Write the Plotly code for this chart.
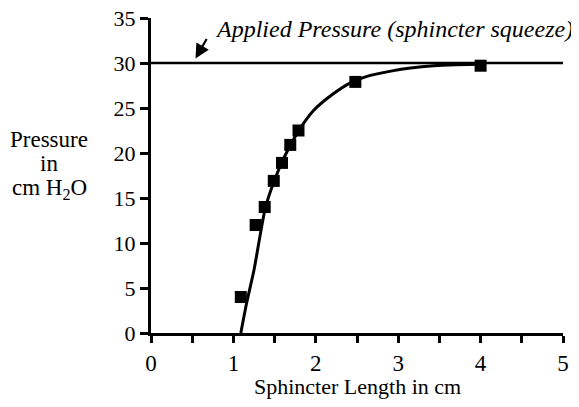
import plotly.graph_objects as go

# measured points
length_cm = [1.09, 1.27, 1.38, 1.49, 1.59, 1.69, 1.79, 2.48, 4.0]
pressure = [4.0, 12.0, 14.0, 16.9, 18.9, 20.9, 22.5, 27.9, 29.7]

# fitted curve
curve_x = [1.09, 1.16, 1.25, 1.39, 1.5, 1.6, 1.7, 1.8, 1.97, 2.2, 2.42, 2.65, 2.91, 3.15, 3.43, 3.7, 4.0]
curve_y = [0.0, 3.3, 7.0, 14.0, 17.0, 19.2, 21.0, 22.6, 24.7, 26.5, 27.8, 28.6, 29.1, 29.45, 29.7, 29.8, 29.85]

applied_pressure = 30
x_ticks = [0, 1, 2, 3, 4, 5]
x_minor = [0.5, 1.5, 2.5, 3.5, 4.5]
y_ticks = [0, 5, 10, 15, 20, 25, 30, 35]
y_title_lines = ["Pressure", "in", "cm H<sub>2</sub>O"]
x_title = "Sphincter Length in cm"
label_text = "<i>Applied Pressure (sphincter squeeze)</i>"

FONT = "Liberation Serif"

# page body has an 8px margin: figure is laid out relative to it
W, H = 571, 391
ML, MR, MT, MB = 143, 16, 10, 66
PW, PH = W - ML - MR, H - MT - MB


def px(xabs):
    return (xabs - 8 - ML) / PW


def py(yabs):
    return (H - MB - (yabs - 8)) / PH


fig = go.Figure()
fig.add_trace(go.Scatter(x=curve_x, y=curve_y, mode="lines",
                         line=dict(color="black", width=3, shape="spline", smoothing=0.6),
                         hoverinfo="skip", showlegend=False, cliponaxis=False))
fig.add_trace(go.Scatter(x=length_cm, y=pressure, mode="markers",
                         marker=dict(symbol="square", size=12, color="black"),
                         showlegend=False, cliponaxis=False))

fig.add_shape(type="line", x0=0, x1=5.06, y0=applied_pressure, y1=applied_pressure,
              xref="x", yref="y", line=dict(color="black", width=2.5))

fig.add_annotation(x=px(213), y=py(29), xref="paper", yref="paper",
                   xanchor="left", yanchor="middle",
                   text=label_text, showarrow=False,
                   font=dict(family=FONT, size=24, color="black"))
fig.add_annotation(x=0.54, y=30.5, xref="x", yref="y", text="", showarrow=True,
                   ax=12, ay=-21, arrowhead=2, arrowsize=1.3, arrowwidth=2.2, arrowcolor="black")

for line, yabs in zip(y_title_lines, [139, 163, 189]):
    fig.add_annotation(x=px(49), y=py(yabs), xref="paper", yref="paper",
                       xanchor="center", yanchor="middle", text=line, showarrow=False,
                       font=dict(family=FONT, size=23, color="black"))

fig.add_annotation(x=px(357), y=py(386), xref="paper", yref="paper",
                   xanchor="center", yanchor="middle", text=x_title, showarrow=False,
                   font=dict(family=FONT, size=22, color="black"))

fig.update_layout(
    width=W, height=H,
    margin=dict(l=ML, r=MR, t=MT, b=MB, autoexpand=False),
    paper_bgcolor="white", plot_bgcolor="white",
    font=dict(family=FONT, size=23, color="black"),
    xaxis=dict(range=[0, 5], tickvals=x_ticks, ticks="outside", ticklen=7, tickwidth=3,
               tickcolor="black", showline=True, linecolor="black", linewidth=3,
               showgrid=False, zeroline=False, automargin=False, ticklabeloverflow="allow",
               minor=dict(tickvals=x_minor, ticks="outside", ticklen=7,
                          tickwidth=3, tickcolor="black"),
               tickfont=dict(family=FONT, size=23)),
    yaxis=dict(range=[0, 35], tickvals=y_ticks, ticks="outside", ticklen=8, tickwidth=3,
               tickcolor="black", showline=True, linecolor="black", linewidth=3,
               showgrid=False, zeroline=False, automargin=False, ticklabeloverflow="allow",
               tickfont=dict(family=FONT, size=22)),
)

fig.write_html("out.html")
